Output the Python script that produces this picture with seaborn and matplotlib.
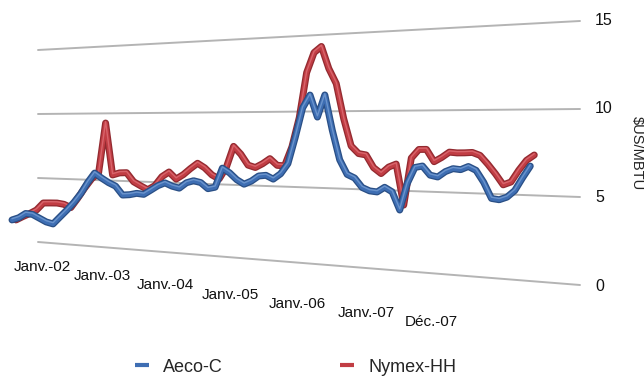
import numpy as np
import matplotlib
matplotlib.use("Agg")
import matplotlib.pyplot as plt
import matplotlib.patheffects as pe
from matplotlib.lines import Line2D
from matplotlib.transforms import Transform
import seaborn as sns

# Monthly gas prices, Jan 2002 .. Dec 2007 ($US/MBTU)
months = np.arange(72)
aeco = [1.59, 1.80, 2.17, 2.13, 1.87, 1.61, 1.49, 2.06, 2.62, 3.22,
        3.92, 4.79, 5.52, 5.16, 4.84, 4.60, 3.96, 4.01, 4.13, 4.08,
        4.41, 4.75, 4.97, 4.75, 4.63, 5.03, 5.19, 5.08, 4.67, 4.79,
        6.13, 5.82, 5.36, 5.07, 5.30, 5.66, 5.72, 5.48, 5.85, 6.54,
        8.30, 10.24, 11.08, 9.63, 11.07, 8.78, 6.86, 5.93, 5.71, 5.12,
        4.92, 4.87, 5.18, 4.91, 3.79, 5.47, 6.47, 6.57, 6.02, 5.92,
        6.26, 6.45, 6.40, 6.60, 6.38, 5.67, 4.73, 4.67, 4.84, 5.24,
        6.00, 6.70]
nymex = [1.61, 1.91, 2.18, 2.49, 3.07, 3.10, 3.12, 3.05, 2.83, 3.57,
         4.37, 5.08, 5.55, 9.28, 5.42, 5.59, 5.62, 4.97, 4.69, 4.43,
         4.74, 5.41, 5.76, 5.27, 5.60, 6.04, 6.43, 6.12, 5.64, 5.37,
         6.20, 7.65, 7.12, 6.38, 6.23, 6.50, 6.85, 6.41, 6.39, 7.66,
         9.60, 12.56, 13.86, 14.24, 12.78, 11.79, 9.52, 7.76, 7.28, 7.20,
         6.40, 6.04, 6.46, 6.66, 4.11, 7.05, 7.59, 7.60, 6.85, 7.12,
         7.45, 7.41, 7.42, 7.45, 7.28, 6.77, 6.20, 5.56, 5.74, 6.44,
         7.03, 7.35]
tick_months = [0, 12, 24, 36, 48, 60, 71]
tick_labels = ["Janv.-02", "Janv.-03", "Janv.-04", "Janv.-05",
               "Janv.-06", "Janv.-07", "Déc.-07"]
y_ticks = [0, 5, 10, 15]

W, H = 644, 377
BLUE, BLUE_DK = "#3e6eb3", "#2a4f85"
RED, RED_DK = "#c13d44", "#922a30"
GRID = "#b4b4b4"

# fake 3D back wall (pixel geometry)
WALL_L, WALL_R = 38, 580
BASE_L, BASE_R = 242, 285      # y of value 0 at left/right end
UNIT_L, UNIT_R = 12.8, 17.6    # px per unit at left/right end


def month_px(m):
    return 12 + 6.8 * m + 0.00704 * m ** 2


def px_month(px):
    a, b, c = 0.00704, 6.8, 12 - px
    return (-b + np.sqrt(b * b - 4 * a * c)) / (2 * a)


class Wall3D(Transform):
    """(month, value) -> axes fraction, with a tilted perspective wall."""
    input_dims = output_dims = 2
    is_separable = False
    has_inverse = False

    def __init__(self, shift=0.0):
        super().__init__()
        self.shift = shift

    def transform_non_affine(self, values):
        values = np.asarray(values, dtype=float)
        px = month_px(values[:, 0]) + self.shift
        t = (px - WALL_L) / (WALL_R - WALL_L)
        base = BASE_L + (BASE_R - BASE_L) * t
        unit = UNIT_L + (UNIT_R - UNIT_L) * t
        py = base - values[:, 1] * unit
        return np.column_stack([px / W, 1 - py / H])


sns.set_style("white")
plt.rcParams["font.family"] = ["Liberation Sans", "DejaVu Sans"]

fig = plt.figure(figsize=(6.44, 3.77), dpi=100)
ax = fig.add_axes([0, 0, 1, 1])
ax.set_axis_off()

wall = Wall3D() + ax.transAxes
wall_back = Wall3D(shift=4) + ax.transAxes

# gridlines on the wall
gx = [px_month(WALL_L), px_month(WALL_R)]
for v in y_ticks:
    ax.plot(gx, [v, v], color=GRID, lw=1.4, transform=wall, zorder=1)

# right value labels
lab_m = px_month(595)
for v in y_ticks:
    ax.text(lab_m, v, str(v), transform=wall, ha="left", va="center",
            fontsize=11.5, color="#111111")

fig.text(637 / W, 1 - 153 / H, "$US/MBTU", rotation=-90, ha="center",
         va="center", fontsize=10.5, color="#222222")


def ribbon(dark, light):
    return [pe.Stroke(linewidth=5.0, foreground=dark),
            pe.Normal(),
            pe.Stroke(linewidth=1.0, foreground=light, offset=(0, 0.9))]


sns.lineplot(x=months, y=nymex, ax=ax, color=RED, linewidth=3.2,
             transform=wall_back, legend=False, zorder=3,
             path_effects=ribbon(RED_DK, "#d8646b"))
sns.lineplot(x=months, y=aeco, ax=ax, color=BLUE, linewidth=3.2,
             transform=wall, legend=False, zorder=4,
             path_effects=ribbon(BLUE_DK, "#6b94cc"))

# category labels along the floor edge
for m, lab in zip(tick_months, tick_labels):
    tx = 42 + 4.95 * m + 0.0075 * m ** 2
    ty = 267 + 0.77 * m
    fig.text(tx / W, 1 - ty / H, lab, ha="center", va="center",
             fontsize=11, color="#111111")

handles = [Line2D([], [], color=BLUE, lw=3, solid_capstyle="butt"),
           Line2D([], [], color=RED, lw=3, solid_capstyle="butt")]
fig.legend(handles, ["Aeco-C", "Nymex-HH"], loc="center left",
           bbox_to_anchor=(135 / W, 1 - 367 / H), ncol=2, frameon=False,
           fontsize=13, handlelength=0.75, handletextpad=0.8,
           columnspacing=6.5, borderpad=0, borderaxespad=0)

fig.savefig("out.png", dpi=100)
